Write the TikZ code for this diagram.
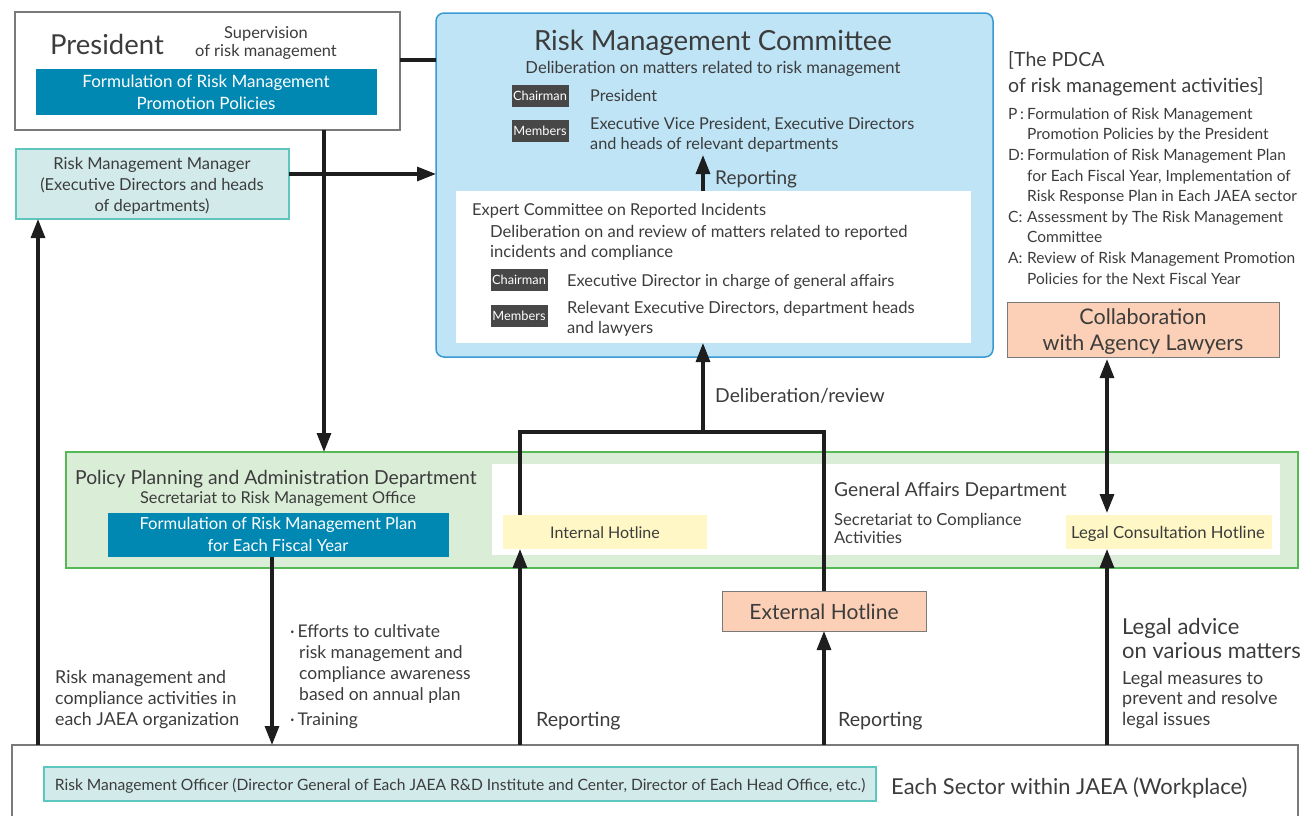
\documentclass[tikz,border=0pt]{standalone}
\usepackage{fontspec}
\setmainfont{Lato}
\usetikzlibrary{arrows.meta}
\definecolor{ink}{HTML}{3C3C3C}
\definecolor{frame}{HTML}{7A7A7A}
\definecolor{deepblue}{HTML}{0088B2}
\definecolor{cmtfill}{HTML}{BEE4F6}
\definecolor{cmtline}{HTML}{3A9AD2}
\definecolor{tagfill}{HTML}{474747}
\definecolor{tealfill}{HTML}{D2EBEA}
\definecolor{tealline}{HTML}{5CC6BF}
\definecolor{greenfill}{HTML}{D9EDD7}
\definecolor{greenline}{HTML}{55BA55}
\definecolor{paleyellow}{HTML}{FFF8C6}
\definecolor{salmon}{HTML}{FBD0B6}
\definecolor{wire}{HTML}{1E1E1E}
% font size and line spacing, both in pt
\newcommand{\fsz}[2]{\fontsize{#1}{#2}\selectfont}
% PDCA list: letter column and hanging indent
\newcommand{\pdcaitem}[1]{\makebox[19pt][l]{#1}}
\newcommand{\pdcacont}{\hspace*{19pt}}
\tikzset{
  area/.style={anchor=north west, inner sep=0pt, outer sep=0pt},
  graybox/.style={area, draw=frame, line width=2pt, fill=white},
  bluebox/.style={area, fill=deepblue},
  tealbox/.style={area, draw=tealline, line width=1.8pt, fill=tealfill},
  yellowbox/.style={area, fill=paleyellow},
  salmonbox/.style={area, draw=frame, line width=1pt, fill=salmon},
  tag/.style={inner sep=0pt, fill=tagfill, text=white, minimum width=57pt, minimum height=22pt, font=\fsz{12.8}{15}},
  % multi-line nodes: the base anchor sits on the last line
  txt/.style={inner sep=0pt, text=ink, anchor=base west, align=left},
  ctxt/.style={inner sep=0pt, text=ink, anchor=base, align=center},
  conn/.style={draw=wire, line width=3.2pt},
  arr/.style={conn, -{Triangle[length=19pt,width=14pt]}},
  arrboth/.style={conn, {Triangle[length=19pt,width=14pt]}-{Triangle[length=19pt,width=14pt]}},
}
\begin{document}
\begin{tikzpicture}[x=1pt,y=-1pt]
\useasboundingbox (0,0) rectangle (1300,815);
\clip (0,0) rectangle (1300,815);

% ---------- columns and junctions ----------
\coordinate (cL) at (38,0);
\coordinate (cPres) at (324,0);
\coordinate (cPlan) at (272,0);
\coordinate (cInt) at (520,0);
\coordinate (cExt) at (824,0);
\coordinate (cLeg) at (1107,0);
\coordinate (rowTop) at (0,60);
\coordinate (rowMgr) at (0,174);
\coordinate (split) at (703,432);
\coordinate (repEnd) at (703,155);

% ---------- boxes ----------
\node[graybox, minimum width=385pt, minimum height=118pt] (pres) at (15,12) {};
\node[bluebox, minimum width=341pt, minimum height=46pt] (policy) at (36,69) {};
\node[tealbox, minimum width=273pt, minimum height=70pt] (rmm) at (16,149) {};

\node[area, draw=cmtline, line width=1.5pt, fill=cmtfill, rounded corners=8pt,
      minimum width=557pt, minimum height=344pt] (rmc) at (436,13) {};
\node[area, fill=white, minimum width=515pt, minimum height=152pt] (expert) at (456,191) {};

\node[salmonbox, minimum width=272pt, minimum height=55pt] (collab) at (1007,302) {};

\node[area, draw=greenline, line width=1.4pt, fill=greenfill, minimum width=1232pt, minimum height=116pt] (ppa) at (66,452) {};
\node[area, fill=white, minimum width=788pt, minimum height=91pt] (gad) at (492,464) {};
\node[bluebox, minimum width=341pt, minimum height=44pt] (plan) at (108,513) {};
\node[yellowbox, minimum width=204pt, minimum height=34pt] (inth) at (503,515) {};
\node[yellowbox, minimum width=206pt, minimum height=34pt] (legh) at (1066,515) {};

\node[salmonbox, minimum width=204pt, minimum height=40pt] (exth) at (722,591) {};

\node[graybox, minimum width=1286pt, minimum height=100pt] (sector) at (12,745) {};
\node[tealbox, minimum width=832pt, minimum height=34pt] (rmo) at (44,767) {};

% ---------- connectors ----------
\draw[conn] (pres.east |- rowTop) -- (rmc.west |- rowTop);
\draw[arr] (rmm.east |- rowMgr) -- (rmc.west |- rowMgr);
\draw[arr] (pres.south -| cPres) -- (ppa.north -| cPres);
\draw[arr] (plan.south -| cPlan) -- (sector.north -| cPlan);
\draw[arr] (sector.north -| cL) -- (rmm.south -| cL);
\draw[conn] (inth.north -| cInt) |- (split) -| (exth.north -| cExt);
\draw[arr] (split) -- (expert.south -| split);
\draw[arr] (expert.north -| split) -- (repEnd);
\draw[arr] (sector.north -| cInt) -- (inth.south -| cInt);
\draw[arr] (sector.north -| cExt) -- (exth.south -| cExt);
\draw[arr] (sector.north -| cLeg) -- (legh.south -| cLeg);
\draw[arrboth, shorten <=2pt, shorten >=2pt] (collab.south -| cLeg) -- (legh.north -| cLeg);

% ---------- President ----------
\node[ctxt, font=\fsz{27.5}{32}] (presT) at (107,54) {President};
\node[ctxt, font=\fsz{16.4}{18}] (supT) at (266,56) {Supervision\\of risk management};
\node[ctxt, text=white, font=\fsz{17}{22}] (policyT) at (206,109) {Formulation of Risk Management\\Promotion Policies};
\node[ctxt, font=\fsz{16.5}{21}] (rmmT) at (152,211) {Risk Management Manager\\(Executive Directors and heads\\of departments)};

% ---------- Risk Management Committee ----------
\node[ctxt, font=\fsz{27.7}{32}] (rmcT) at (713,50) {Risk Management Committee};
\node[ctxt, font=\fsz{16.6}{20}] (rmcD) at (713,73) {Deliberation on matters related to risk management};
\node[tag] (tagC1) at (540,96) {Chairman};
\node[txt, font=\fsz{16.2}{20}] (chair1) at (590,101) {President};
\node[tag] (tagM1) at (540,131) {Members};
\node[txt, font=\fsz{16.3}{20}] (mem1) at (590,149) {Executive Vice President, Executive Directors\\and heads of relevant departments};
\node[txt, font=\fsz{19}{22}] (repT) at (715,184) {Reporting};

\node[txt, font=\fsz{16.4}{20}] (expT) at (472,215) {Expert Committee on Reported Incidents};
\node[txt, font=\fsz{16.6}{20}] (expD) at (490,257) {Deliberation on and review of matters related to reported\\incidents and compliance};
\node[tag] (tagC2) at (519,280) {Chairman};
\node[txt, font=\fsz{16.4}{20}] (chair2) at (567,286) {Executive Director in charge of general affairs};
\node[tag] (tagM2) at (519,316) {Members};
\node[txt, font=\fsz{16.5}{20}] (mem2) at (567,333) {Relevant Executive Directors, department heads\\and lawyers};

\node[txt, font=\fsz{19.3}{22}] (delT) at (715,402) {Deliberation/review};

% ---------- PDCA ----------
\node[txt, font=\fsz{19.5}{26}] (pdcaH) at (1008,92) {[The PDCA\\of risk management activities]};
\node[txt, font=\fsz{15.5}{20.6}] (pdcaL) at (1008,284) {%
  \pdcaitem{P\,:}Formulation of Risk Management\\
  \pdcacont Promotion Policies by the President\\
  \pdcaitem{D:}Formulation of Risk Management Plan\\
  \pdcacont for Each Fiscal Year, Implementation of\\
  \pdcacont Risk Response Plan in Each JAEA sector\\
  \pdcaitem{C:}Assessment by The Risk Management\\
  \pdcacont Committee\\
  \pdcaitem{A:}Review of Risk Management Promotion\\
  \pdcacont Policies for the Next Fiscal Year};
\node[ctxt, font=\fsz{21.5}{26}] (collabT) at (1143,350) {Collaboration\\with Agency Lawyers};

% ---------- Departments ----------
\node[txt, font=\fsz{19.3}{22}] (ppaT) at (75,484) {Policy Planning and Administration Department};
\node[ctxt, font=\fsz{16.3}{20}] (secT) at (278,503) {Secretariat to Risk Management Office};
\node[ctxt, text=white, font=\fsz{16.6}{22}] (planT) at (278,551) {Formulation of Risk Management Plan\\for Each Fiscal Year};
\node[ctxt, font=\fsz{16}{20}] (inthT) at (605,538) {Internal Hotline};
\node[txt, font=\fsz{19.2}{22}] (gadT) at (834,496) {General Affairs Department};
\node[txt, font=\fsz{16.6}{18}] (gadS) at (834,543) {Secretariat to Compliance\\Activities};
\node[ctxt, font=\fsz{16.7}{20}] (leghT) at (1168,538) {Legal Consultation Hotline};
\node[ctxt, font=\fsz{21}{24}] (exthT) at (824,619) {External Hotline};

% ---------- flow labels ----------
\node[txt, font=\fsz{17.8}{21}] (leftT) at (55,725) {Risk management and\\compliance activities in\\each JAEA organization};
\node[txt, font=\fsz{17.5}{21}] (effT) at (290,725) {·\,Efforts to cultivate\\\hspace*{9pt}risk management and\\\hspace*{9pt}compliance awareness\\\hspace*{9pt}based on annual plan\\[4pt]·\,Training};
\node[txt, font=\fsz{19.6}{22}] (rep1) at (536,726) {Reporting};
\node[txt, font=\fsz{19.6}{22}] (rep2) at (838,726) {Reporting};
\node[txt, font=\fsz{22}{24}] (advT) at (1122,658) {Legal advice\\on various matters};
\node[txt, font=\fsz{18}{20.5}] (measT) at (1122,725) {Legal measures to\\prevent and resolve\\legal issues};

% ---------- Sector ----------
\node[ctxt, font=\fsz{15.6}{20}] (rmoT) at (460,790) {Risk Management Officer (Director General of Each JAEA R\&D Institute and Center, Director of Each Head Office, etc.)};
\node[txt, font=\fsz{21.9}{26}] (sectT) at (891,794) {Each Sector within JAEA (Workplace)};
\end{tikzpicture}
\end{document}
